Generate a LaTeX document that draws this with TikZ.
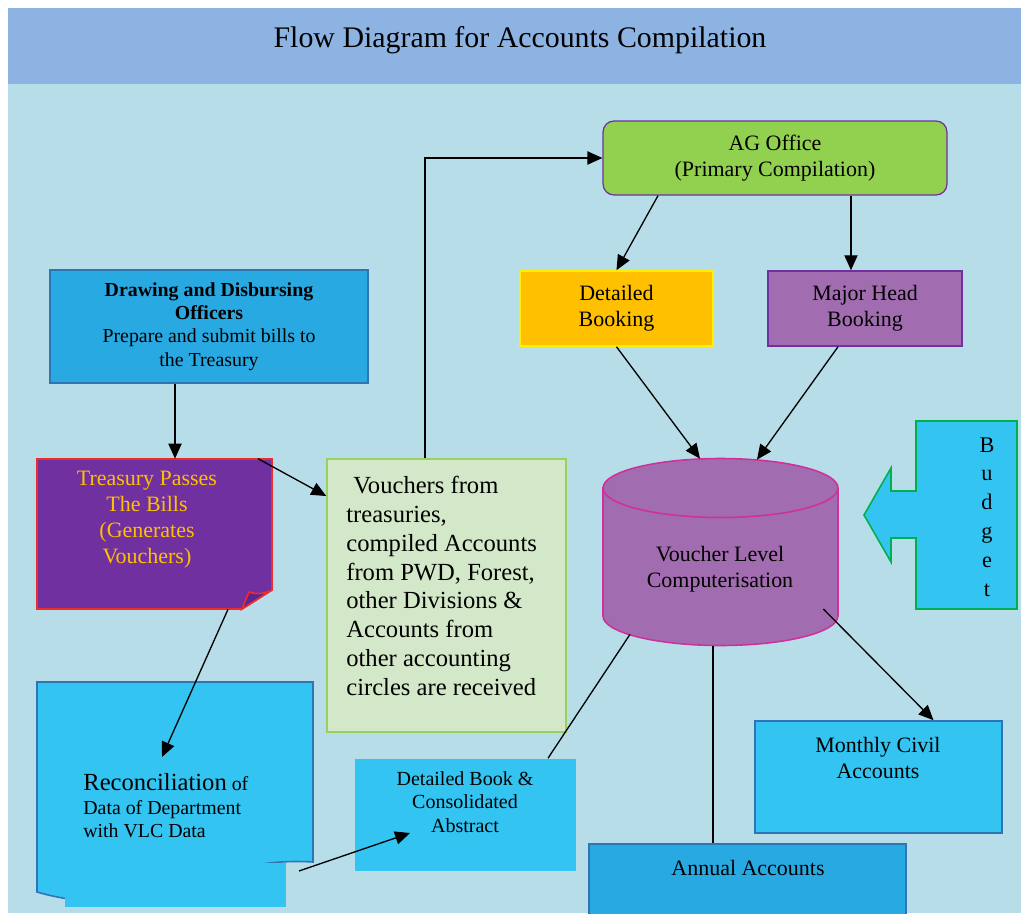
\documentclass[tikz,border=0pt]{standalone}
\usepackage{fontspec}
\setmainfont{Liberation Serif}
\usetikzlibrary{arrows.meta}
\definecolor{titleblue}{HTML}{8DB3E2}
\definecolor{pageblue}{HTML}{B7DEE8}
\definecolor{agfill}{HTML}{92D050}
\definecolor{plum}{HTML}{7030A0}
\definecolor{gold}{HTML}{FFC000}
\definecolor{goldedge}{HTML}{FFF000}
\definecolor{mauve}{HTML}{A26DB0}
\definecolor{ddofill}{HTML}{29A9E1}
\definecolor{edgeblue}{HTML}{2E75B6}
\definecolor{skyfill}{HTML}{33C4F2}
\definecolor{redline}{HTML}{EE2A2A}
\definecolor{mint}{HTML}{D3E8C8}
\definecolor{mintedge}{HTML}{9BD05A}
\definecolor{pinkedge}{HTML}{D0309A}
\definecolor{greenedge}{HTML}{00B050}
\definecolor{foldfill}{HTML}{5E2590}
\tikzset{
    box/.style={draw, rectangle, inner sep=0pt, line width=0.9pt, align=center},
    agbox/.style={box, rounded corners=0.22cm, fill=agfill, draw=plum, line width=0.7pt,
    minimum width=6.88cm, minimum height=1.48cm},
    bookbox/.style={box, fill=gold, draw=goldedge, minimum width=3.86cm, minimum height=1.5cm},
    headbox/.style={box, fill=mauve, draw=plum, minimum width=3.88cm, minimum height=1.5cm},
    ddobox/.style={box, fill=ddofill, draw=edgeblue, minimum width=6.36cm, minimum height=2.26cm,
    font=\fontsize{11.3}{13.2}\selectfont},
    skybox/.style={box, fill=skyfill, draw=edgeblue},
    holder/.style={rectangle, inner sep=0pt},
    txt/.style={inner sep=0pt, align=center},
    arr/.style={-{Triangle[length=8.5pt,width=7.5pt]}, line width=0.75pt},
    plain/.style={line width=0.75pt}
}
\begin{document}
\begin{tikzpicture}[x=0.02cm, y=-0.02cm, font=\fontsize{12.5}{14.8}\selectfont]
    % page and title band
    \fill[white] (0,0) rectangle (1021,913);
    \fill[pageblue] (8,84) rectangle (1021,913);
    \fill[titleblue] (8,8) rectangle (1021,84);
    \useasboundingbox (0,0) rectangle (1021,913);
    \node[txt, font=\fontsize{17}{20}\selectfont] (title) at (520,40) {Flow Diagram for Accounts Compilation};

    \node[agbox] (ag) at (775,158) {AG Office\\(Primary Compilation)};
    \node[bookbox] (booking) at (616.5,308.5) {Detailed\\Booking};
    \node[headbox] (majorhead) at (865,308.5) {Major Head\\Booking};
    \node[ddobox] (ddo) at (209,326.5) {\textbf{Drawing and Disbursing}\\\textbf{Officers}\\Prepare and submit bills to\\the Treasury};

    % treasury sheet with folded corner
    \filldraw[fill=plum, draw=redline, line width=0.9pt] (37,459) -- (272,459) -- (272,590) -- (242,609) -- (37,609) -- cycle;
    \filldraw[fill=foldfill, draw=redline, line width=0.9pt] (242,609) -- (249,592) .. controls (258,595) and (266,593) .. (272,590) -- cycle;
    \node[holder, minimum width=4.7cm, minimum height=3cm] (treasury) at (154.5,534) {};
    \node[txt, text=gold] (treasurytxt) at (147,520) {Treasury Passes\\The Bills\\(Generates\\Vouchers)};

    \node[box, fill=mint, draw=mintedge, minimum width=4.78cm, minimum height=5.46cm] (vouchers) at (446.5,595.5) {};
    \node[txt, align=left, anchor=north west, font=\fontsize{14}{16.4}\selectfont] (voucherstxt) at (346,476)
    {\hspace*{4pt}Vouchers from\\treasuries,\\compiled Accounts\\from PWD, Forest,\\other Divisions \&\\Accounts from\\other accounting\\circles are received};

    % cylinder
    \filldraw[fill=mauve, draw=pinkedge, line width=0.9pt] (603,488) -- (603,616)
        arc[start angle=180, end angle=360, x radius=2.35cm, y radius=0.59cm] -- (838,488)
        arc[start angle=0, end angle=180, x radius=2.35cm, y radius=0.59cm] -- cycle;
    \draw[pinkedge, line width=0.9pt] (603,488) arc[start angle=180, end angle=360, x radius=2.35cm, y radius=0.59cm];
    \node[holder, minimum width=4.7cm, minimum height=3.74cm] (vlc) at (720.5,552.5) {};
    \node[txt] (vlctxt) at (720,569) {Voucher Level\\Computerisation};

    % budget arrow block
    \filldraw[fill=skyfill, draw=greenedge, line width=0.9pt] (916,421) -- (1017,421) -- (1017,609) -- (916,609) -- (916,538)
        -- (891,538) -- (891,562) -- (864,515) -- (891,468) -- (891,491) -- (916,491) -- cycle;
    \node[txt, font=\fontsize{12.7}{16.4}\selectfont] (budget) at (987,517) {B\\u\\d\\g\\e\\t};

    % reconciliation document
    \filldraw[fill=skyfill, draw=edgeblue, line width=0.9pt] (37,682) -- (313,682) -- (313,862)
        .. controls (200,855) and (150,925) .. (37,892) -- cycle;
    \fill[skyfill] (65,863) rectangle (286,907);
    \node[holder, minimum width=5.52cm, minimum height=4.5cm] (recon) at (175,794.5) {};
    \node[txt, align=left, anchor=north west, font=\fontsize{11.3}{13.5}\selectfont] (recontxt) at (83,773)
    {{\fontsize{14}{16}\selectfont Reconciliation} of\\Data of Department\\with VLC Data};

    \node[box, draw=none, fill=skyfill, minimum width=4.42cm, minimum height=2.24cm] (abstract) at (465.5,815) {};
    \node[txt, font=\fontsize{11.4}{13.3}\selectfont] (abstracttxt) at (465,802) {Detailed Book \&\\Consolidated\\Abstract};

    \node[skybox, fill=ddofill, minimum width=6.34cm, minimum height=1.52cm] (annual) at (747.5,882) {};
    \node[txt] (annualtxt) at (748,868) {Annual Accounts};

    \node[skybox, minimum width=4.94cm, minimum height=2.24cm] (monthly) at (878.5,777) {};
    \node[txt] (monthlytxt) at (878,758) {Monthly Civil\\Accounts};

    % connectors
    \draw[arr] ([xshift=-0.68cm]ddo.south) -- ([xshift=-0.68cm]ddo.south |- treasury.north);
    \draw[arr] ([xshift=2.07cm]treasury.north) -- ([yshift=1.99cm]vouchers.west);
    \draw[arr] ([xshift=-0.43cm]vouchers.north) |- (ag.west);
    \draw[arr] ([xshift=-2.34cm]ag.south) -- (booking.north);
    \draw[arr] ([xshift=1.52cm]ag.south) -- ([xshift=1.52cm]ag.south |- majorhead.north);
    \draw[arr] (booking.south) -- ([xshift=-0.41cm]vlc.north);
    \draw[arr] ([xshift=-0.54cm]majorhead.south) -- ([xshift=0.73cm,yshift=-0.02cm]vlc.north);
    \draw[arr] ([xshift=-0.3cm,yshift=-1.13cm]vlc.east) -- ([xshift=1.1cm]monthly.north);
    \draw[plain] ([xshift=-1.81cm,yshift=0.24cm]vlc.south) -- ([xshift=1.65cm]abstract.north);
    \draw[plain] ([xshift=-0.15cm]vlc.south) -- ([xshift=-0.15cm]vlc.south |- annual.north);
    \draw[arr] ([xshift=1.47cm]treasury.south) -- ([xshift=-0.26cm,yshift=0.75cm]recon.center);
    \draw[arr] ([xshift=2.48cm,yshift=-1.53cm]recon.center) -- ([xshift=-1.11cm,yshift=-0.36cm]abstract.center);
\end{tikzpicture}
\end{document}
